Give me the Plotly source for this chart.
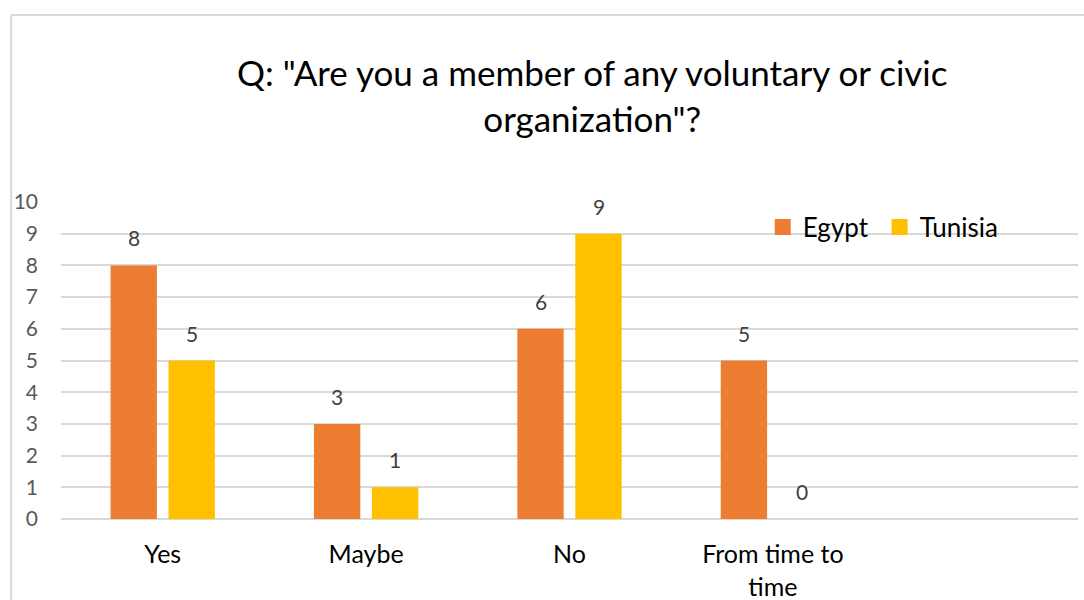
import plotly.graph_objects as go

categories = ["Yes", "Maybe", "No", "From time to<br>time", " "]
egypt = [8, 3, 6, 5, None]
tunisia = [5, 1, 9, 0, None]
y_ticks = list(range(0, 11))

ORANGE = "#ED7D31"
GOLD = "#FFC000"
FONT = "Lato, 'Open Sans', sans-serif"

fig = go.Figure()
fig.add_trace(go.Bar(name="Egypt", x=categories, y=egypt, showlegend=False,
                     marker=dict(color=ORANGE, line=dict(width=0))))
fig.add_trace(go.Bar(name="Tunisia", x=categories, y=tunisia, showlegend=False,
                     marker=dict(color=GOLD, line=dict(width=0))))

# legend entries with square swatches
for name, color in (("Egypt ", ORANGE), ("Tunisia", GOLD)):
    fig.add_trace(go.Scatter(name=name, x=[None], y=[None], mode="markers",
                             marker=dict(symbol="square", size=16, color=color)))

# value labels above each bar
for series, shift in ((egypt, -29), (tunisia, 29)):
    for cat, val in zip(categories, series):
        if val is None:
            continue
        fig.add_annotation(x=cat, y=val, xref="x", yref="y", text=str(val), showarrow=False,
                           xshift=shift, yshift=13, yanchor="bottom",
                           font=dict(family=FONT, size=21, color="#404040"))

fig.add_annotation(xref="paper", yref="paper", x=0.522, y=1.336, yanchor="middle", showarrow=False,
                   text='Q: "Are you a member of any voluntary or civic<br>organization"?',
                   font=dict(family=FONT, size=35, color="#000000"), align="center")

# chart frame
fig.add_shape(type="rect", xref="paper", yref="paper", x0=-0.049, x1=1.2, y0=-0.5, y1=1.59,
              line=dict(color="#D9D9D9", width=2), fillcolor="rgba(0,0,0,0)", layer="below")

fig.update_layout(
    width=1084, height=600,
    margin=dict(l=61, r=6, t=202, b=81),
    paper_bgcolor="white", plot_bgcolor="white",
    barmode="group", bargap=0.43, bargroupgap=0.2,
    font=dict(family=FONT, color="#000000"),
    showlegend=True,
    legend=dict(orientation="h", x=0.69, y=0.921, xanchor="left", yanchor="middle",
                font=dict(family=FONT, size=26, color="#000000"), bgcolor="rgba(0,0,0,0)",
                itemwidth=30, tracegroupgap=0),
)
fig.update_xaxes(showgrid=False, showline=False, ticks="", ticklabelstandoff=18, automargin=False,
                 tickfont=dict(family=FONT, size=25, color="#000000"))
fig.update_yaxes(range=[0, 10], tickvals=y_ticks, showgrid=True, gridcolor="#D9D9D9", gridwidth=2,
                 zeroline=True, zerolinecolor="#D9D9D9", zerolinewidth=2, showline=False, ticks="",
                 automargin=False,
                 tickfont=dict(family=FONT, size=21, color="#595959"), ticklabelstandoff=22)

fig.write_html("out.html")
